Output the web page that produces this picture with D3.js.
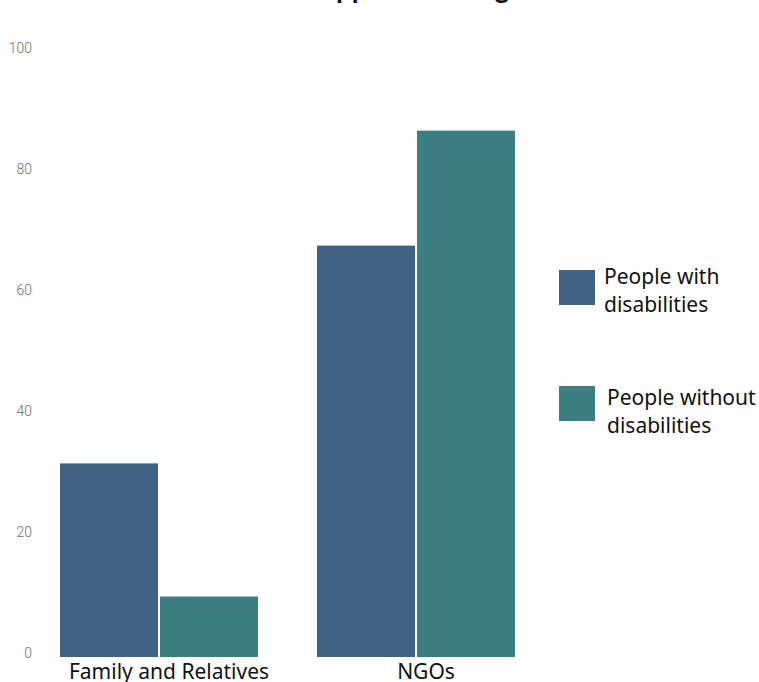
<!DOCTYPE html>
<html>
<head>
<meta charset="utf-8">
<script src="https://cdn.jsdelivr.net/npm/d3@7"></script>
<style>
html,body{margin:0;padding:0;background:#fff;}
svg{display:block;}
</style>
</head>
<body>
<svg id="chart" width="759" height="682"></svg>
<script>
const title = "Support Seeking";
const categories = ["Family and Relatives", "NGOs"];
const seriesNames = ["People with disabilities", "People without disabilities"];
const legendLines = [["People with", "disabilities"], ["People without", "disabilities"]];
const withDisabilities = [32, 68];
const withoutDisabilities = [10, 87];
const yTicks = [0, 20, 40, 60, 80, 100];
const colors = ["#426285", "#3d7e82"];

const svg = d3.select("#chart");
const y = d3.scaleLinear().domain([0, 100]).range([657, 52]);
const x0 = d3.scaleBand().domain(categories).range([60, 517]).paddingInner(57 / 257).paddingOuter(0);
const x1 = d3.scaleBand().domain(seriesNames).range([0, x0.bandwidth()]).padding(0);

const data = categories.map((c, i) => ({
  cat: c,
  vals: [
    { s: seriesNames[0], v: withDisabilities[i], color: colors[0] },
    { s: seriesNames[1], v: withoutDisabilities[i], color: colors[1] }
  ]
}));

// title (cut off at top, as in reference)
svg.append("text")
  .attr("x", 305).attr("y", -2)
  .attr("font-family", "Lato, sans-serif")
  .attr("font-weight", "bold")
  .attr("font-size", 28)
  .attr("fill", "#111")
  .text(title);

// y axis
const yAxis = d3.axisLeft(y).tickValues(yTicks).tickSize(0).tickPadding(0);
const gy = svg.append("g").attr("transform", "translate(32,-4)").call(yAxis);
gy.select(".domain").remove();
gy.selectAll("text")
  .attr("font-family", "Roboto, sans-serif")
  .attr("font-weight", 300)
  .attr("font-size", 14)
  .attr("fill", "#6e6e6e");

// bars
const groups = svg.append("g").selectAll("g").data(data).join("g")
  .attr("transform", d => `translate(${x0(d.cat)},0)`);
groups.selectAll("rect").data(d => d.vals).join("rect")
  .attr("x", d => x1(d.s))
  .attr("y", d => y(d.v))
  .attr("width", x1.bandwidth() - 2)
  .attr("height", d => y(0) - y(d.v))
  .attr("fill", d => d.color);

// x axis labels
const xAxis = d3.axisBottom(x0).tickSize(0).tickPadding(0);
const gx = svg.append("g").attr("transform", "translate(9,664)").call(xAxis);
gx.select(".domain").remove();
gx.selectAll("text")
  .attr("font-family", "'Noto Sans', sans-serif")
  .attr("font-size", 21)
  .attr("fill", "#111");

// legend
const legendY = [270, 386];
const legendTextX = [604, 607];
const legendTextDy = [14, 19];
seriesNames.forEach((s, i) => {
  svg.append("rect")
    .attr("x", 559).attr("y", legendY[i])
    .attr("width", 36).attr("height", 35)
    .attr("fill", colors[i]);
  const t = svg.append("text")
    .attr("font-family", "'Noto Sans', sans-serif")
    .attr("font-size", 21)
    .attr("fill", "#111");
  legendLines[i].forEach((line, j) => {
    t.append("tspan").attr("x", legendTextX[i]).attr("y", legendY[i] + legendTextDy[i] + j * 28).text(line);
  });
});
</script>
</body>
</html>
